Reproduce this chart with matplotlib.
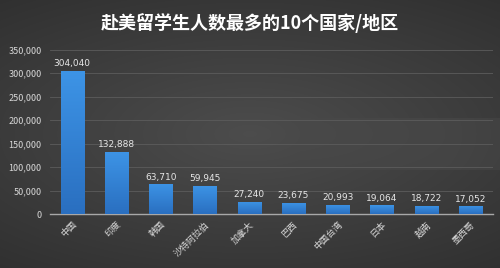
import matplotlib
matplotlib.use("Agg")
import matplotlib.pyplot as plt
import numpy as np
from matplotlib.ticker import FuncFormatter
from matplotlib.colors import LinearSegmentedColormap

plt.rcParams['font.family'] = ['Noto Sans CJK SC', 'DejaVu Sans']

# 数据
countries = ['中国', '印度', '韩国', '沙特阿拉伯', '加拿大', '巴西', '中国台湾', '日本', '越南', '墨西哥']
students = [304040, 132888, 63710, 59945, 27240, 23675, 20993, 19064, 18722, 17052]
title = '赴美留学生人数最多的10个国家/地区'

fig = plt.figure(figsize=(5, 2.68), dpi=100)

# 背景渐变
bg = fig.add_axes([0, 0, 1, 1])
yy, xx = np.mgrid[-1:1:268j, -1:1:500j]
r = np.sqrt((xx * 0.8) ** 2 + (yy * 1.0) ** 2)
shade = 0.30 - 0.12 * np.clip(r, 0, 1.4) / 1.4
band = ((yy > -0.12) & (yy < 0.27)) * np.clip((xx - 0.2) / 0.6, 0, 1) * 0.025
img = np.dstack([shade + band] * 3)
bg.imshow(img, aspect='auto', extent=[0, 1, 0, 1])
bg.set_axis_off()

ax = fig.add_axes([0.1, 0.2, 0.885, 0.615])
ax.patch.set_alpha(0)
x = np.arange(len(countries))
bars = ax.bar(x, students, width=0.52, color='#3a8ee0', zorder=3)

# 柱子渐变
grad = np.linspace(0, 1, 100).reshape(-1, 1)
cmap = LinearSegmentedColormap.from_list('b', ['#2a6fc0', '#3d94e6'])
for b in bars:
    im = ax.imshow(grad, cmap=cmap, aspect='auto', origin='lower',
                   extent=[b.get_x(), b.get_x() + b.get_width(), 0, b.get_height()], zorder=3)
    im.set_clip_path(b)

for xi, v in zip(x, students):
    ax.text(xi, v + 6000, f'{v:,}', ha='center', va='bottom', fontsize=6.5,
            color='#e6e6e6', family='DejaVu Sans', zorder=4)

ax.set_xlim(-0.5, len(countries) - 0.5)
ax.set_ylim(0, 350000)
ax.set_yticks(np.arange(0, 350001, 50000))
ax.yaxis.set_major_formatter(FuncFormatter(lambda v, p: f'{int(v):,}'))
ax.grid(axis='y', color='#5c5c5c', linewidth=0.6, zorder=0)
ax.set_xticks(x)
ax.set_xticklabels(countries, rotation=45, ha='right', rotation_mode='anchor')
ax.tick_params(axis='y', length=0, labelsize=6.5, colors='#d8d8d8', pad=6)
ax.tick_params(axis='x', length=0, labelsize=6.5, colors='#d8d8d8', pad=4)
for s in ['top', 'right', 'left']:
    ax.spines[s].set_visible(False)
ax.spines['bottom'].set_color('#a8a8a8')
ax.spines['bottom'].set_linewidth(1)

fig.text(0.5, 0.915, title, ha='center', va='center', fontsize=13,
         fontweight='bold', color='white')

plt.savefig('out.png', dpi=100)
plt.close()
